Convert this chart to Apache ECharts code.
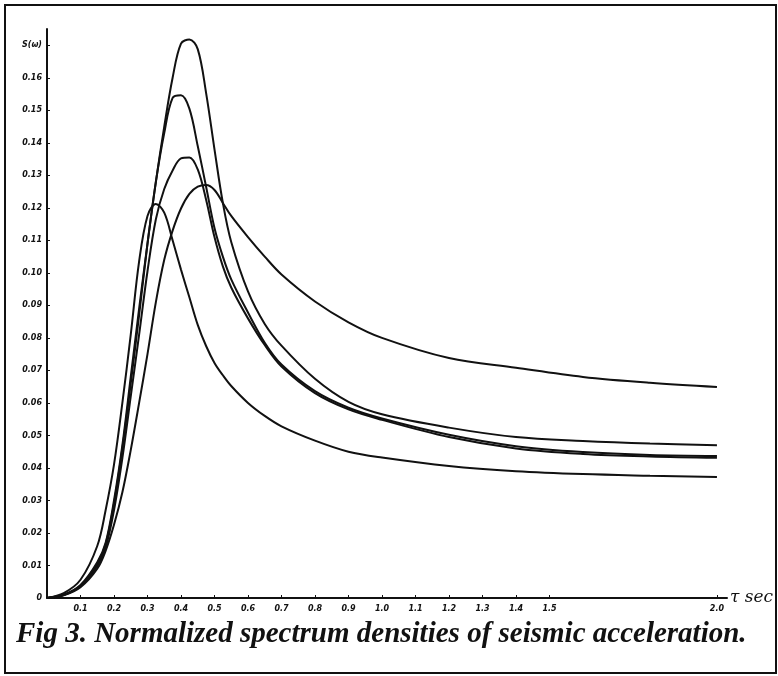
<!DOCTYPE html>
<html>
<head>
<meta charset="utf-8">
<script src="https://cdn.jsdelivr.net/npm/echarts@6/dist/echarts.min.js"></script>
<style>
  html, body { margin: 0; padding: 0; background: #fff; }
  #chart { width: 778px; height: 676px; }
</style>
</head>
<body>
<div id="chart"></div>
<script>
// period τ (sec)
const tGrid = [0, 0.05, 0.1, 0.15, 0.175, 0.2, 0.225, 0.25, 0.275, 0.3, 0.325, 0.35, 0.375, 0.4, 0.425,
  0.45, 0.475, 0.5, 0.525, 0.55, 0.6, 0.65, 0.7, 0.8, 0.9, 1.0, 1.2, 1.4, 1.6, 1.8, 2.0]

// normalized spectrum densities S(ω), one array per record
const sA = [0, 0.001, 0.0038, 0.0105, 0.0165, 0.029, 0.046, 0.066, 0.087, 0.109, 0.128, 0.145, 0.16, 0.1705, 0.1718,
  0.1688, 0.1553, 0.138, 0.1215, 0.1095, 0.0943, 0.0843, 0.0776, 0.0674, 0.0603, 0.0565, 0.0524, 0.0495, 0.0483, 0.0475, 0.047]
const sB = [0, 0.001, 0.004, 0.011, 0.017, 0.030, 0.047, 0.068, 0.089, 0.109, 0.128, 0.143, 0.1538, 0.1546, 0.1505,
  0.139, 0.1265, 0.1138, 0.105, 0.098, 0.0878, 0.0785, 0.0718, 0.0636, 0.0585, 0.0552, 0.0502, 0.0467, 0.0449, 0.044, 0.0437]
const sC = [0, 0.0009, 0.0036, 0.0098, 0.0155, 0.027, 0.043, 0.062, 0.081, 0.1005, 0.1165, 0.1258, 0.1315, 0.1352, 0.1355,
  0.1318, 0.1225, 0.111, 0.102, 0.0955, 0.086, 0.0778, 0.0712, 0.063, 0.058, 0.0548, 0.0495, 0.046, 0.0443, 0.0435, 0.0431]
const sD = [0, 0.0008, 0.0033, 0.009, 0.0145, 0.0225, 0.0325, 0.0455, 0.06, 0.075, 0.091, 0.104, 0.113, 0.1198, 0.1243,
  0.1265, 0.127, 0.1255, 0.1215, 0.1175, 0.111, 0.105, 0.0995, 0.0912, 0.0848, 0.08, 0.0738, 0.0708, 0.068, 0.0662, 0.0649]
const sE = [0, 0.0015, 0.0056, 0.016, 0.027, 0.041, 0.06, 0.081, 0.1035, 0.1175, 0.1212, 0.1185, 0.11, 0.101, 0.0925,
  0.084, 0.0775, 0.0723, 0.0685, 0.0652, 0.06, 0.056, 0.0528, 0.0484, 0.045, 0.0432, 0.0406, 0.039, 0.0381, 0.0376, 0.0372]

// tick labels
const xLabelVals = [0.1, 0.2, 0.3, 0.4, 0.5, 0.6, 0.7, 0.8, 0.9, 1.0, 1.1, 1.2, 1.3, 1.4, 1.5, 2.0]
const yLabelVals = [0, 0.01, 0.02, 0.03, 0.04, 0.05, 0.06, 0.07, 0.08, 0.09, 0.10, 0.11, 0.12, 0.13, 0.14, 0.15, 0.16, 0.17]

const ink = '#111'
const tickFont = { color: ink, fontSize: 8, fontStyle: 'italic', fontWeight: 'bold', fontFamily: 'DejaVu Sans' }

const chart = echarts.init(document.getElementById('chart'))

const curve = (s) => ({
  type: 'line',
  data: tGrid.map((t, i) => [t, s[i]]),
  smooth: 0.35,
  showSymbol: false,
  lineStyle: { color: ink, width: 2 },
  silent: true,
})

chart.setOption({
  animation: false,
  backgroundColor: '#fff',
  title: {
    text: 'Fig 3. Normalized spectrum densities of seismic acceleration.',
    left: 11,
    top: 615,
    textStyle: { color: ink, fontSize: 29, fontStyle: 'italic', fontWeight: 'bold', fontFamily: 'Liberation Serif' },
  },
  grid: { left: 47, right: 51, top: 29, bottom: 78, outerBoundsMode: 'none' },
  xAxis: {
    type: 'value',
    min: 0,
    max: 2.03,
    name: 'τ sec',
    nameLocation: 'end',
    nameGap: 2,
    nameTextStyle: { color: ink, fontSize: 17, fontStyle: 'italic', fontFamily: 'DejaVu Serif' },
    axisLine: { lineStyle: { color: ink, width: 2 } },
    axisTick: { inside: true, length: 3, customValues: xLabelVals, lineStyle: { color: ink } },
    axisLabel: { ...tickFont, margin: 7, customValues: xLabelVals, formatter: (v) => v.toFixed(1) },
    splitLine: { show: false },
  },
  yAxis: {
    type: 'value',
    min: 0,
    max: 0.175,
    axisLine: { lineStyle: { color: ink, width: 2 } },
    axisTick: { inside: true, length: 3, customValues: yLabelVals, lineStyle: { color: ink } },
    axisLabel: {
      ...tickFont,
      margin: 5,
      customValues: yLabelVals,
      formatter: (v) => {
        if (v === 0) return '0'
        if (v > 0.165) return 'S(ω)'
        return v.toFixed(2)
      },
    },
    splitLine: { show: false },
  },
  graphic: [{
    type: 'rect',
    shape: { x: 5, y: 5, width: 771, height: 668 },
    style: { fill: 'none', stroke: ink, lineWidth: 2 },
    silent: true,
  }],
  series: [curve(sA), curve(sB), curve(sC), curve(sD), curve(sE)],
})
</script>
</body>
</html>
